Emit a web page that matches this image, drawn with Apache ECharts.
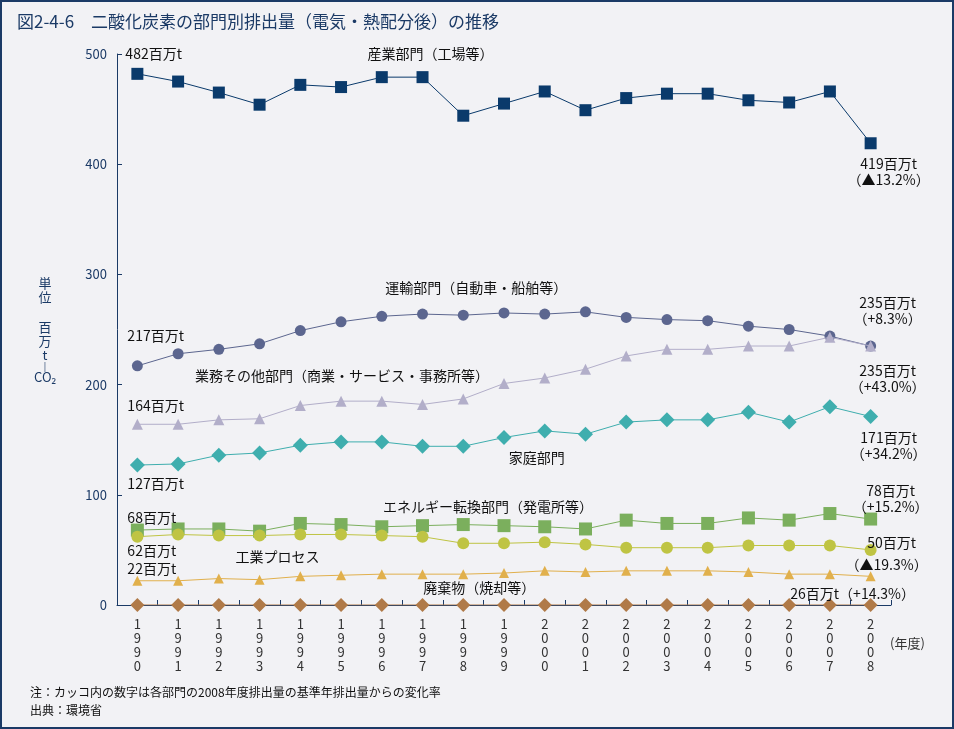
<!DOCTYPE html>
<html><head><meta charset="utf-8">
<script src="https://cdn.jsdelivr.net/npm/echarts@6/dist/echarts.min.js"></script>
<style>html,body{margin:0;padding:0;background:#f2f2f5;}#c{width:954px;height:729px;box-sizing:border-box;border:2px solid #1b3a66;}</style>
</head><body><div id="c"></div>
<script>
const years = ['1990','1991','1992','1993','1994','1995','1996','1997','1998','1999','2000','2001','2002','2003','2004','2005','2006','2007','2008'];
const industry    = [482,475,465,454,472,470,479,479,444,455,466,449,460,464,464,458,456,466,419];
const transport   = [217,228,232,237,249,257,262,264,263,265,264,266,261,259,258,253,250,244,235];
const commercial  = [164,164,168,169,181,185,185,182,187,201,206,214,226,232,232,235,235,243,235];
const residential = [127,128,136,138,145,148,148,144,144,152,158,155,166,168,168,175,166,180,171];
const energy      = [68,69,69,67,74,73,71,72,73,72,71,69,77,74,74,79,77,83,78];
const processes   = [62,64,63,63,64,64,63,62,56,56,57,55,52,52,52,54,54,54,50];
const waste       = [22,22,24,23,26,27,28,28,28,29,31,30,31,31,31,30,28,28,26];
const other       = [0,0,0,0,0,0,0,0,0,0,0,0,0,0,0,0,0,0,0];
const yTicks = [0,100,200,300,400,500];
// annotations: [category index, value, text, align, x-offset px]
const notes = [
  [0, 500, '482百万t', 'left', -12],
  [7, 500, '産業部門（工場等）', 'center', 8],
  [18, 393, '419百万t\n（▲13.2%）', 'center', 18],
  [8, 287.7, '運輸部門（自動車・船舶等）', 'center', 13],
  [0, 244, '217百万t', 'left', -10],
  [5, 207.8, '業務その他部門（商業・サービス・事務所等）', 'center', 1],
  [0, 180.6, '164百万t', 'left', -10],
  [0, 109.8, '127百万t', 'left', -10],
  [10, 133.4, '家庭部門', 'center', -8],
  [18, 266.8, '235百万t\n（+8.3%）', 'center', 17],
  [18, 205.1, '235百万t\n（+43.0%）', 'center', 17],
  [18, 144.3, '171百万t\n（+34.2%）', 'center', 18],
  [18, 96.2, '78百万t\n（+15.2%）', 'center', 20],
  [18, 56.3, '50百万t', 'center', 21],
  [18, 36.3, '（▲19.3%）', 'center', 16],
  [18, 10, '26百万t（+14.3%）', 'center', -18],
  [0, 79.5, '68百万t', 'left', -10],
  [0, 49, '62百万t', 'left', -10],
  [0, 32.7, '22百万t', 'left', -10],
  [9, 88.9, 'エネルギー転換部門（発電所等）', 'center', -16],
  [3, 43.6, '工業プロセス', 'center', 18],
  [8, 15.4, '廃棄物（焼却等）', 'center', 16]
];
const FONT = '"Noto Sans CJK JP", "Noto Sans", sans-serif';
const NAVY = '#1b3a66';
function line(name, data, color, symbol, size, z) {
  return {name, type:'line', data, z: z, symbol, symbolSize:size, showSymbol:true,
    lineStyle:{color, width:1}, itemStyle:{color}, emphasis:{disabled:true}, animation:false};
}
const chart = echarts.init(document.getElementById('c'), null, {renderer:'canvas'});
const otherSeries = line('その他', other, '#b07a48', 'diamond', 14, 2);
otherSeries.markPoint = {
  symbol:'rect', symbolSize:1, silent:true, animation:false,
  itemStyle:{color:'rgba(0,0,0,0)'},
  data: notes.map(n => ({coord:[years[n[0]], n[1]],
    label:{show:true, position:'inside', align:n[3], verticalAlign:'middle', offset:[n[4],0],
      formatter:n[2], color:'#111', fontSize:14, lineHeight:16, fontFamily:FONT}}))
};
chart.setOption({
  backgroundColor:'#f2f2f5',
  animation:false,
  title:{text:'図2-4-6　二酸化炭素の部門別排出量（電気・熱配分後）の推移', left:10, top:6,
    textStyle:{color:NAVY, fontSize:17, fontWeight:'normal', fontFamily:FONT}},
  grid:{left:115, right:61, top:52, bottom:122, containLabel:false},
  xAxis:{type:'category', data:years, boundaryGap:true,
    axisLine:{lineStyle:{color:NAVY, width:1}},
    axisTick:{show:true, inside:true, length:5, lineStyle:{color:NAVY}},
    axisLabel:{color:'#333', fontSize:13, lineHeight:14, margin:12, fontFamily:FONT, interval:0,
      formatter:v => v.split('').join('\n')}},
  yAxis:{type:'value', min:0, max:500, interval:100,
    axisLine:{show:true, lineStyle:{color:NAVY, width:1}},
    axisTick:{show:true, inside:true, length:5, lineStyle:{color:NAVY}},
    splitLine:{show:false},
    axisLabel:{color:NAVY, fontSize:13, margin:10, fontFamily:FONT,
      formatter:v => yTicks.includes(v) ? String(v) : ''}},
  series:[
    line('産業部門', industry, '#0a3a6b', 'rect', 12, 3),
    line('運輸部門', transport, '#5c668f', 'circle', 11, 3),
    line('業務その他部門', commercial, '#b2aec9', 'triangle', 11, 4),
    line('家庭部門', residential, '#3faeae', 'diamond', 15, 3),
    line('エネルギー転換部門', energy, '#7baf5d', 'rect', 13, 3),
    line('工業プロセス', processes, '#bfc443', 'circle', 12, 4),
    line('廃棄物', waste, '#e1b04c', 'triangle', 10, 3),
    otherSeries
  ],
  graphic:[
    {type:'text', left:888, top:635, style:{text:'(年度)', fill:'#333', font:'13px '+FONT}},
    {type:'text', left:28, top:684, style:{text:'注：カッコ内の数字は各部門の2008年度排出量の基準年排出量からの変化率', fill:'#111', font:'12px '+FONT}},
    {type:'text', left:28, top:702, style:{text:'出典：環境省', fill:'#111', font:'12px '+FONT}},
    {type:'text', left:32, top:275, style:{
      text:'{a|単}\n{a|位}\n{g|}\n{a|百}\n{a|万}\n{a|t}\n{b||}\n{a|CO₂}',
      rich:{a:{fill:NAVY, fontSize:13, lineHeight:14, fontFamily:FONT, align:'center', width:16},
            g:{fill:NAVY, fontSize:13, lineHeight:16, fontFamily:FONT, align:'center', width:16},
            b:{fill:NAVY, fontSize:9, lineHeight:8, fontFamily:FONT, align:'center', width:16}}}}
  ]
});
</script></body></html>
